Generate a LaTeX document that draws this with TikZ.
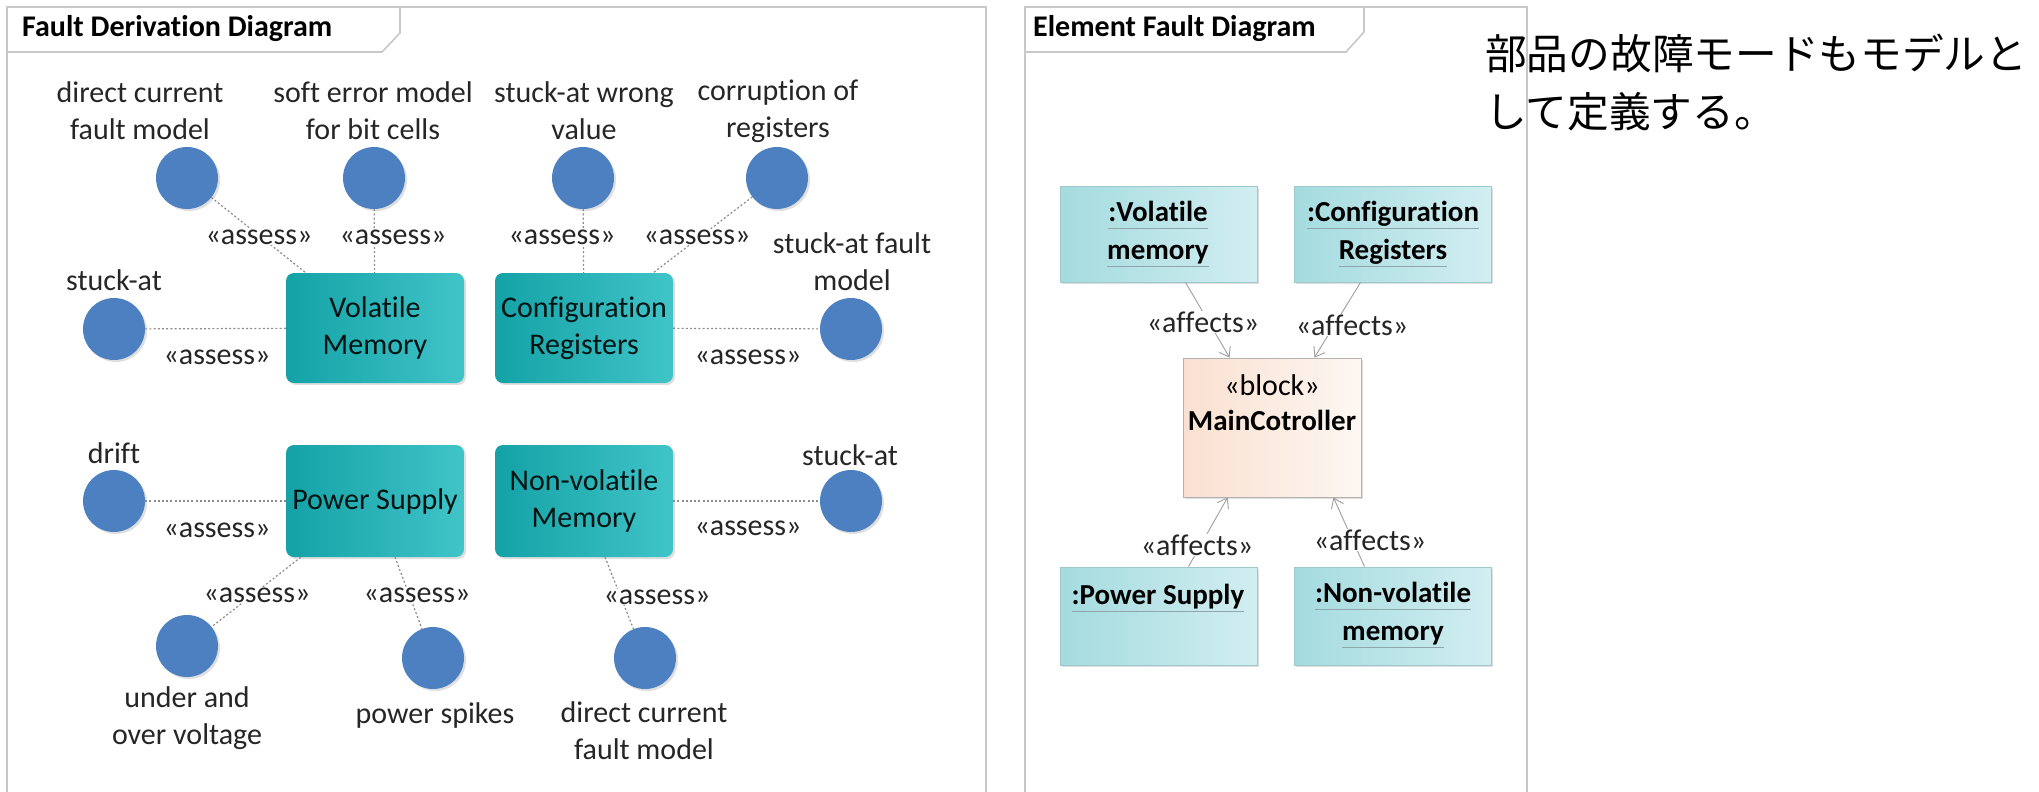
\documentclass[tikz,border=0pt]{standalone}
\usepackage{fontspec}
\setmainfont[Ligatures=NoCommon]{Carlito}
\newfontfamily\cjk{Noto Sans CJK JP}
\usetikzlibrary{arrows.meta,shadows,calc}
\definecolor{framegray}{HTML}{C8C8C8}
\definecolor{circblue}{HTML}{4D80C0}
\definecolor{tealL}{HTML}{14A2A6}
\definecolor{tealR}{HTML}{40C4C8}
\definecolor{cyanL}{HTML}{A4DBDF}
\definecolor{cyanR}{HTML}{D2EEF1}
\definecolor{peachL}{HTML}{FAE0D0}
\definecolor{peachR}{HTML}{FDF7F3}
\definecolor{txt}{HTML}{262626}
\definecolor{linegray}{HTML}{8C8C8C}
\definecolor{ulgray}{HTML}{8FA6AA}
\newcommand\gul[1]{\setbox0\hbox{#1}\hbox{\rlap{\textcolor{ulgray}{\rule[-8pt]{\wd0}{1.2pt}}}\box0}}
\newcommand\nl{\kern0pt }
\tikzset{
  frameline/.style={draw=framegray, line width=1.6pt},
  fault/.style={circle, fill=circblue, minimum size=62pt, inner sep=0pt,
    drop shadow={opacity=0.25, shadow xshift=2pt, shadow yshift=-2pt}},
  tealbox/.style={rounded corners=8pt, left color=tealL, right color=tealR, draw=none,
    minimum width=178pt, minimum height=110pt, inner sep=0pt, align=center,
    text=black!85!teal, font=\fontsize{30}{37}\selectfont,
    drop shadow={opacity=0.25, shadow xshift=2pt, shadow yshift=-2pt}},
  cyanbox/.style={left color=cyanL, right color=cyanR, draw=cyanL!80!gray, line width=0.8pt,
    minimum width=197pt, minimum height=96pt, inner sep=0pt,
    drop shadow={opacity=0.25, shadow xshift=2pt, shadow yshift=-2pt}},
  peachbox/.style={left color=peachL, right color=peachR, draw=gray!60, line width=0.8pt,
    minimum width=178pt, minimum height=139pt, inner sep=0pt,
    drop shadow={opacity=0.25, shadow xshift=2pt, shadow yshift=-2pt}},
  lbl/.style={text=txt, align=center, inner sep=1pt, font=\fontsize{30}{37}\selectfont},
  stereo/.style={text=txt, fill=white, inner sep=1pt, font=\fontsize{30}{37}\selectfont},
  titletext/.style={text=black, anchor=west, inner sep=0pt, font=\bfseries\fontsize{30}{36}\selectfont},
  boxtext/.style={text=black, align=center, inner sep=0pt, font=\bfseries\fontsize{29}{38}\selectfont},
  assessline/.style={draw=linegray, line width=1.2pt, dash pattern=on 2pt off 2.2pt},
  affectsline/.style={draw=gray!75, line width=0.9pt, -{Straight Barb[length=9pt,width=13pt,line width=0.9pt]}},
}
\begin{document}
\begin{tikzpicture}[x=1pt,y=-1pt]
\useasboundingbox (0,0) rectangle (2039,792);
\fill[white] (0,0) rectangle (2039,792);

% ---------- left frame ----------
\draw[frameline] (7,800) -- (7,7) -- (986,7) -- (986,800);
\draw[frameline] (7,52) -- (382,52) -- (400,33) -- (400,7);
\node[titletext] (t1) at (22,29) {Fault Derivat\nl ion Diagram};

% boxes
\node[tealbox] (b1) at (375,328) {Volat\nl ile\\Memory};
\node[tealbox] (b2) at (584,328) {Conf\nl igurat\nl ion\\Registers};
\node[tealbox, minimum height=112pt] (b3) at (375,501) {Power Supply};
\node[tealbox, minimum height=112pt] (b4) at (584,501) {Non-volat\nl ile\\Memory};

% fault circles
\node[fault] (c1) at (187,178) {};
\node[fault] (c2) at (374,178) {};
\node[fault] (c3) at (583,178) {};
\node[fault] (c4) at (777,178) {};
\node[fault] (c5) at (114,329) {};
\node[fault] (c6) at (851,329) {};
\node[fault] (c7) at (114,501) {};
\node[fault] (c8) at (851,501) {};
\node[fault] (c9) at (187,646) {};
\node[fault] (c10) at (433,658) {};
\node[fault] (c11) at (645,658) {};

% circle labels
\node[lbl] (l1) at (140,111) {direct current\\fault model};
\node[lbl] (l2) at (373,111) {soft error model\\for bit cells};
\node[lbl] (l3) at (584,111) {stuck-at wrong\\value};
\node[lbl] (l4) at (778,111) {corrupt\nl ion of\\registers};
\node[lbl] (l5) at (114,280) {stuck-at};
\node[lbl] (l6) at (852,262) {stuck-at fault\\model};
\node[lbl] (l7) at (114,453) {drif\nl t};
\node[lbl] (l8) at (850,455) {stuck-at};
\node[lbl] (l9) at (187,718) {under and\\over voltage};
\node[lbl] (l10) at (435,715) {power spikes};
\node[lbl] (l11) at (644,731) {direct current\\fault model};

% assess connectors
\draw[assessline] (c1) -- ($(b1.north west)+(20,0)$);
\draw[assessline] (c2) -- (b1);
\draw[assessline] (c3) -- (b2);
\draw[assessline] (c4) -- ($(b2.north east)+(-20,0)$);
\draw[assessline] (c5) -- (b1);
\draw[assessline] (b2) -- (c6);
\draw[assessline] (c7) -- (b3);
\draw[assessline] (b4) -- (c8);
\draw[assessline] ($(b3.south west)+(15,0)$) -- (c9);
\draw[assessline] ($(b3.south)+(20,0)$) -- (c10);
\draw[assessline] ($(b4.south)+(21,0)$) -- (c11);

\node[stereo] (a1) at (259,237) {«assess»};
\node[stereo] (a2) at (393,237) {«assess»};
\node[stereo] (a3) at (562,237) {«assess»};
\node[stereo] (a4) at (697,237) {«assess»};
\node[stereo] (a5) at (217,357) {«assess»};
\node[stereo] (a6) at (748,357) {«assess»};
\node[stereo] (a7) at (217,530) {«assess»};
\node[stereo] (a8) at (748,528) {«assess»};
\node[stereo] (a9) at (257,595) {«assess»};
\node[stereo] (a10) at (417,595) {«assess»};
\node[stereo] (a11) at (657,597) {«assess»};

% ---------- right frame ----------
\draw[frameline] (1025,800) -- (1025,7) -- (1527,7) -- (1527,800);
\draw[frameline] (1025,52) -- (1346,52) -- (1364,32) -- (1364,7);
\node[titletext] (t2) at (1033,29) {Element Fault Diagram};

\node[cyanbox] (e1) at (1158.5,234) {};
\node[cyanbox] (e2) at (1392.5,234) {};
\node[peachbox] (m) at (1272,427.5) {};
\node[cyanbox, minimum height=98pt] (e3) at (1158.5,616) {};
\node[cyanbox, minimum height=98pt] (e4) at (1392.5,616) {};

\node[boxtext] (e1t) at (1158,234) {\gul{:Volat\nl ile}\\\gul{memory}};
\node[boxtext] (e2t) at (1393,234) {\gul{:Conf\nl igurat\nl ion}\\\gul{Registers}};
\node[boxtext] (e3t) at (1158,598) {\gul{:Power Supply}};
\node[boxtext] (e4t) at (1393,615) {\gul{:Non-volat\nl ile}\\\gul{memory}};
\node[lbl, text=black] (mt1) at (1272,385) {«block»};
\node[boxtext] (mt2) at (1272,420) {MainCotroller};

\draw[affectsline] ($(e1.south)+(27,0)$) -- ($(m.north west)+(47,0)$);
\draw[affectsline] ($(e2.south)+(-32,0)$) -- ($(m.north east)+(-47,0)$);
\draw[affectsline] ($(e3.north)+(30,0)$) -- ($(m.south west)+(45,0)$);
\draw[affectsline] ($(e4.north)+(-28,0)$) -- ($(m.south east)+(-28,0)$);

\node[stereo] (f1) at (1203,322) {«aff\nl ects»};
\node[stereo] (f2) at (1352,325) {«aff\nl ects»};
\node[stereo] (f3) at (1197,545) {«aff\nl ects»};
\node[stereo] (f4) at (1370,540) {«aff\nl ects»};

% ---------- Japanese note ----------
\node[anchor=base west, inner sep=0pt, text=black, font=\cjk\fontsize{41.7}{57}\selectfont] (j1) at (1485,70) {部品の故障モードもモデルと};
\node[anchor=base west, inner sep=0pt, text=black, font=\cjk\fontsize{41.7}{57}\selectfont] (j2) at (1485,127) {して定義する。};
\end{tikzpicture}
\end{document}
